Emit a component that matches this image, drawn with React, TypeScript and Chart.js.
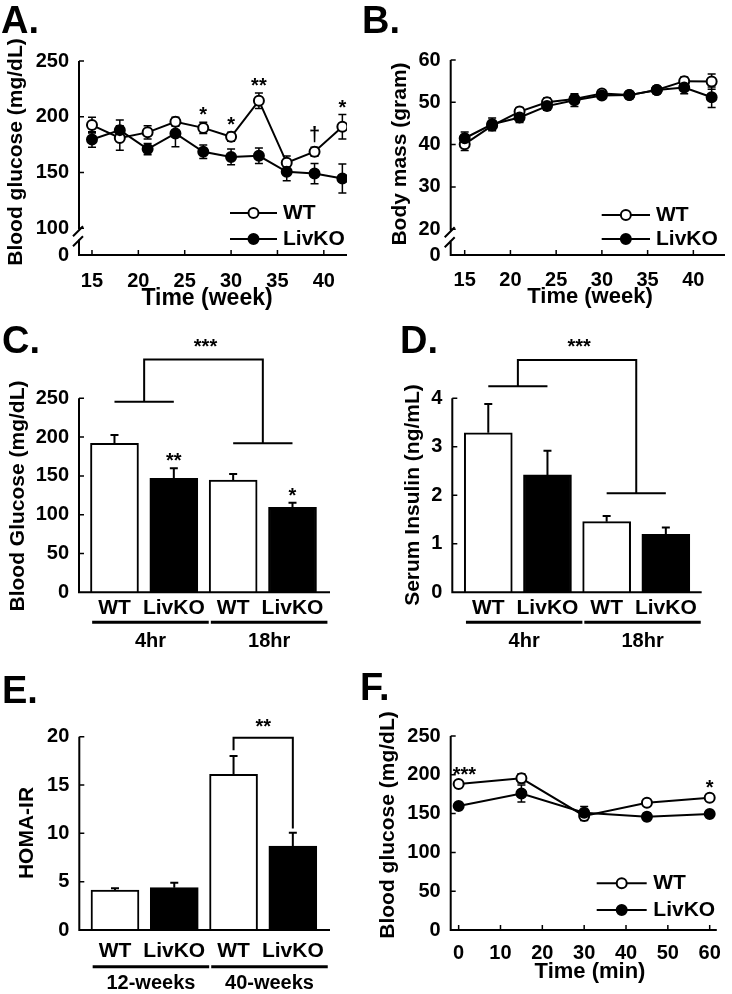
import React, { useEffect, useRef } from 'react';
import { Chart, registerables } from 'chart.js';
Chart.register(...registerables);

const FONT = '"Liberation Sans", Arial, Helvetica, sans-serif';
const SERIES = ['WT', 'LivKO'];

// ---- Panel A: blood glucose over weeks
const A_WEEKS = [15, 18, 21, 24, 27, 30, 33, 36, 39, 42];
const A_WT = [192.5, 181, 186, 195.5, 190, 182, 214.4, 158.7, 168.6, 191];
const A_WT_ERR = [7, 11, 6, 4, 5, 4, 7, 6, 4, 11];
const A_KO = [179.6, 188, 171, 185, 168.6, 164, 165, 150.6, 149, 144.6];
const A_KO_ERR = [7, 9, 5, 12, 6, 7, 7, 8, 9, 13];
const A_SIG = ['', '', '', '', '*', '*', '**', '', '†', '*'];
const A_X_TICKS = [15, 20, 25, 30, 35, 40];
const A_Y_TICKS = [100, 150, 200, 250];
const A_Y_FLOOR = 76; // broken axis floor, labelled "0"

// ---- Panel B: body mass over weeks
const B_WT = [40.1, 44.5, 47.8, 50, 50.8, 52.1, 51.7, 52.9, 55, 54.9];
const B_WT_ERR = [1.5, 1.2, 1, 1, 1, 0.8, 0.8, 0.8, 1, 1.8];
const B_KO = [41.5, 44.8, 46.4, 49.1, 50.5, 51.6, 51.7, 52.9, 53.5, 51.2];
const B_KO_ERR = [1.5, 1.5, 1.2, 1, 1.5, 0.8, 0.8, 0.8, 1.5, 2.4];
const B_Y_TICKS = [20, 30, 40, 50, 60];
const B_Y_FLOOR = 13.9;

// ---- Bars (C, D, E)
const BAR_CATS = ['WT', 'LivKO', 'WT', 'LivKO'];

const C_GROUPS = ['4hr', '18hr'];
const C_VALUES = [192, 147, 144.7, 109.5];
const C_ERR = [10.7, 12.8, 7.7, 6];
const C_SIG = ['', '**', '', '*'];
const C_BRACKET = [245.6, 192, 300];
const C_BRACKET_SIG = '***';
const C_Y_TICKS = [0, 50, 100, 150, 200, 250];

const D_VALUES = [3.29, 2.42, 1.456, 1.196];
const D_ERR = [0.59, 0.5, 0.115, 0.14];
const D_BRACKET = [4.25, 2.04, 4.79];
const D_BRACKET_SIG = '***';
const D_Y_TICKS = [0, 1, 2, 3, 4];

const E_GROUPS = ['12-weeks', '40-weeks'];
const E_VALUES = [4.14, 4.38, 16.1, 8.69];
const E_ERR = [0.17, 0.5, 1.9, 1.38];
const E_BRACKET = [18.6, 10.5, 19.9];
const E_BRACKET_SIG = '**';
const E_Y_TICKS = [0, 5, 10, 15, 20];

// ---- Panel F: glucose over minutes
const F_TIMES = [0, 15, 30, 45, 60];
const F_WT = [188, 195.5, 147, 164, 170.5];
const F_WT_ERR = [3, 6, 6, 3, 4];
const F_KO = [159.8, 176, 151, 146, 149.5];
const F_KO_ERR = [3, 11, 8, 5, 3];
const F_SIG = ['***', '', '', '', '*'];
const F_X_TICKS = [0, 10, 20, 30, 40, 50, 60];
const F_Y_TICKS = [0, 50, 100, 150, 200, 250];

const WY = 55;
const HX = 60;
const NUM_FONT = { family: FONT, size: 20, weight: 'bold' as const };
const CAT_FONT = { family: FONT, size: 21, weight: 'bold' as const };

type Err = { xs: number[]; v: number[]; e: number[] };
type Decor = {
  letter: [string, number, number];
  yTitle: [string, number, number];
  xTitle?: [string, number, number, number];
  breakAt?: number;
  xTicks?: boolean;
  lineErr?: Err[];
  barErr?: Err;
  sig?: { xs: number[]; v: number[]; e: number[]; s: string[] };
  legend?: { x0: number; x1: number; tx: number; y0: number; y1: number };
  pairBracket?: { levels: number[]; text: string };
  singleBracket?: { levels: number[]; text: string };
  groups?: { names: string[]; lineDy: number; labelDy: number };
};

function txt(ctx: any, s: string, x: number, y: number, size: number, align = 'center', base = 'middle', rot = 0) {
  ctx.save();
  ctx.translate(x, y);
  if (rot) ctx.rotate(rot);
  ctx.font = `bold ${size}px ${FONT}`;
  ctx.fillStyle = '#000';
  ctx.textAlign = align;
  ctx.textBaseline = base;
  ctx.fillText(s, 0, 0);
  ctx.restore();
}

function decorPlugin(d: Decor) {
  return {
    id: 'decor',
    beforeDatasetsDraw(chart: any) {
      if (!d.lineErr) return;
      const { ctx } = chart;
      const xs = chart.scales.x, ys = chart.scales.y;
      ctx.save();
      ctx.strokeStyle = '#000';
      ctx.lineWidth = 1.5;
      ctx.beginPath();
      d.lineErr.forEach((s) =>
        s.xs.forEach((x, i) => {
          const px = xs.getPixelForValue(x);
          const hi = ys.getPixelForValue(s.v[i] + s.e[i]);
          const lo = ys.getPixelForValue(s.v[i] - s.e[i]);
          ctx.moveTo(px, hi); ctx.lineTo(px, lo);
          ctx.moveTo(px - 4, hi); ctx.lineTo(px + 4, hi);
          ctx.moveTo(px - 4, lo); ctx.lineTo(px + 4, lo);
        })
      );
      ctx.stroke();
      ctx.restore();
    },
    afterDatasetsDraw(chart: any) {
      const { ctx, chartArea: a } = chart;
      const xs = chart.scales.x, ys = chart.scales.y;
      ctx.save();
      ctx.strokeStyle = '#000';
      if (d.barErr) {
        const s = d.barErr;
        ctx.lineWidth = 2;
        ctx.beginPath();
        s.xs.forEach((x, i) => {
          const px = xs.getPixelForValue(x);
          const hi = ys.getPixelForValue(s.v[i] + s.e[i]);
          const lo = ys.getPixelForValue(s.v[i]);
          ctx.moveTo(px, lo); ctx.lineTo(px, hi);
          ctx.moveTo(px - 4, hi); ctx.lineTo(px + 4, hi);
        });
        ctx.stroke();
      }
      if (d.sig) {
        const s = d.sig;
        ctx.font = `bold 20px ${FONT}`;
        s.s.forEach((str, i) => {
          if (!str) return;
          let px = xs.getPixelForValue(s.xs[i]);
          const w = ctx.measureText(str).width;
          if (px - w / 2 < a.left + 2) px = a.left + 2 + w / 2;
          const top = ys.getPixelForValue(s.v[i] + s.e[i]);
          txt(ctx, str, px, top - (str === '†' ? 6 : 1), 20, 'center', 'alphabetic');
        });
      }
      if (d.pairBracket) {
        const [lv, rv, tv] = d.pairBracket.levels;
        const x0 = xs.getPixelForValue(0), x1 = xs.getPixelForValue(1);
        const x2 = xs.getPixelForValue(2), x3 = xs.getPixelForValue(3);
        const yl = ys.getPixelForValue(lv), yr = ys.getPixelForValue(rv), yt = ys.getPixelForValue(tv);
        const ml = (x0 + x1) / 2, mr = (x2 + x3) / 2;
        ctx.lineWidth = 2;
        ctx.beginPath();
        ctx.moveTo(x0, yl); ctx.lineTo(x1, yl);
        ctx.moveTo(x2, yr); ctx.lineTo(x3, yr);
        ctx.moveTo(ml, yl); ctx.lineTo(ml, yt); ctx.lineTo(mr, yt); ctx.lineTo(mr, yr);
        ctx.stroke();
        txt(ctx, d.pairBracket.text, (ml + mr) / 2 + 2, yt - 7, 20, 'center', 'alphabetic');
      }
      if (d.singleBracket) {
        const [lv, rv, tv] = d.singleBracket.levels;
        const x2 = xs.getPixelForValue(2), x3 = xs.getPixelForValue(3);
        const yl = ys.getPixelForValue(lv), yr = ys.getPixelForValue(rv), yt = ys.getPixelForValue(tv);
        ctx.lineWidth = 2;
        ctx.beginPath();
        ctx.moveTo(x2, yl); ctx.lineTo(x2, yt); ctx.lineTo(x3, yt); ctx.lineTo(x3, yr);
        ctx.stroke();
        txt(ctx, d.singleBracket.text, (x2 + x3) / 2, yt - 5, 20, 'center', 'alphabetic');
      }
      ctx.restore();
    },
    afterDraw(chart: any) {
      const { ctx, chartArea: a } = chart;
      const xs = chart.scales.x, ys = chart.scales.y;
      const L = a.left;
      ctx.save();
      ctx.strokeStyle = '#000';
      ctx.lineWidth = 2;
      ctx.beginPath();
      if (d.breakAt !== undefined) {
        const yb = ys.getPixelForValue(d.breakAt);
        ctx.moveTo(L, a.top); ctx.lineTo(L, yb + 1);
        ctx.moveTo(L, yb + 11); ctx.lineTo(L, a.bottom);
        ctx.moveTo(L - 6, yb + 8); ctx.lineTo(L + 4, yb - 2);
        ctx.moveTo(L - 6, yb + 18); ctx.lineTo(L + 4, yb + 8);
      } else {
        ctx.moveTo(L, a.top); ctx.lineTo(L, a.bottom);
      }
      ctx.moveTo(L - 1, a.bottom); ctx.lineTo(a.right, a.bottom);
      ctx.stroke();
      ctx.lineWidth = 1.5;
      ctx.beginPath();
      ys.ticks.forEach((t: any) => {
        if (t.value <= ys.min) return;
        const p = ys.getPixelForValue(t.value);
        ctx.moveTo(L, p); ctx.lineTo(L + 5, p);
      });
      if (d.xTicks) {
        xs.ticks.forEach((t: any) => {
          const p = xs.getPixelForValue(t.value);
          ctx.moveTo(p, a.bottom); ctx.lineTo(p, a.bottom - 5);
        });
      }
      ctx.stroke();

      if (d.groups) {
        ctx.font = `bold ${CAT_FONT.size}px ${FONT}`;
        d.groups.names.forEach((g, gi) => {
          const i0 = gi * 2, i1 = gi * 2 + 1;
          const w0 = ctx.measureText(BAR_CATS[i0]).width;
          const w1 = ctx.measureText(BAR_CATS[i1]).width;
          const l = xs.getPixelForValue(i0) - w0 / 2 - 6;
          const r = xs.getPixelForValue(i1) + w1 / 2 + 4;
          const y = a.bottom + d.groups!.lineDy;
          ctx.lineWidth = 3;
          ctx.beginPath();
          ctx.moveTo(l, y); ctx.lineTo(r, y);
          ctx.stroke();
          txt(ctx, g, (l + r) / 2, a.bottom + d.groups!.labelDy, 20, 'center', 'middle');
        });
      }

      if (d.legend) {
        const lg = d.legend;
        [0, 1].forEach((k) => {
          const y = k ? lg.y1 : lg.y0;
          ctx.lineWidth = 2;
          ctx.beginPath();
          ctx.moveTo(lg.x0, y); ctx.lineTo(lg.x1, y);
          ctx.stroke();
          ctx.beginPath();
          ctx.arc((lg.x0 + lg.x1) / 2, y, 5, 0, Math.PI * 2);
          ctx.fillStyle = k ? '#000' : '#fff';
          ctx.fill();
          ctx.stroke();
          txt(ctx, SERIES[k], lg.tx, y, 21, 'left', 'middle');
        });
      }

      txt(ctx, d.yTitle[0], d.yTitle[1], d.yTitle[2], 21, 'center', 'middle', -Math.PI / 2);
      if (d.xTitle) txt(ctx, d.xTitle[0], d.xTitle[1], d.xTitle[2], d.xTitle[3], 'center', 'middle');
      txt(ctx, d.letter[0], d.letter[1], d.letter[2], 38, 'left', 'alphabetic');
      ctx.restore();
    },
  };
}

type Box = { w: number; h: number; L: number; R: number; T: number; B: number };
function layoutFor(b: Box) {
  return { padding: { left: b.L - WY, right: b.w - b.R, top: b.T, bottom: b.h - b.B - HX } };
}

function yScale(min: number, max: number, ticks: number[], label: (v: number) => string) {
  return {
    type: 'linear',
    min,
    max,
    grid: { display: false, drawTicks: false },
    border: { display: false },
    afterBuildTicks: (s: any) => { s.ticks = ticks.map((v) => ({ value: v })); },
    ticks: { font: NUM_FONT, color: '#000', padding: 10, callback: (v: any) => label(v) },
    afterFit: (s: any) => { s.width = WY; },
  };
}

function xScale(min: number, max: number, ticks: number[], label: (v: number) => string, pad: number, font: any) {
  return {
    type: 'linear',
    offset: false,
    min,
    max,
    grid: { display: false, drawTicks: false },
    border: { display: false },
    afterBuildTicks: (s: any) => { s.ticks = ticks.map((v) => ({ value: v })); },
    ticks: { font, color: '#000', padding: pad, autoSkip: false, maxRotation: 0, callback: (v: any) => label(v) },
    afterFit: (s: any) => { s.height = HX; },
  };
}

function lineConfig(o: any) {
  const ds = (vals: number[], fill: string, order: number, label: string) => ({
    label,
    data: o.xs.map((x: number, i: number) => ({ x, y: vals[i] })),
    borderColor: '#000',
    borderWidth: 2,
    pointRadius: 5,
    pointBorderWidth: 2,
    pointBackgroundColor: fill,
    pointBorderColor: '#000',
    tension: 0,
    order,
  });
  return {
    type: 'line',
    data: { datasets: [ds(o.wt, '#fff', 1, SERIES[0]), ds(o.ko, '#000', 0, SERIES[1])] },
    options: {
      responsive: false,
      animation: false,
      devicePixelRatio: 1,
      layout: layoutFor(o.box),
      plugins: { legend: { display: false }, tooltip: { enabled: false } },
      scales: {
        x: xScale(o.xMin, o.xMax, o.xTicks, (v) => String(v), o.xPad, NUM_FONT),
        y: yScale(o.yMin, o.yMax, o.yTicks, o.yLabel),
      },
    },
    plugins: [decorPlugin(o.decor)],
  };
}

function barConfig(o: any) {
  return {
    type: 'bar',
    data: {
      datasets: [
        {
          data: o.values.map((y: number, i: number) => ({ x: i, y })),
          backgroundColor: BAR_CATS.map((c) => (c === 'WT' ? '#fff' : '#000')),
          borderColor: '#000',
          borderWidth: 2,
          barThickness: 48,
        },
      ],
    },
    options: {
      responsive: false,
      animation: false,
      devicePixelRatio: 1,
      layout: layoutFor(o.box),
      plugins: { legend: { display: false }, tooltip: { enabled: false } },
      scales: {
        x: xScale(o.xMin, o.xMax, BAR_CATS.map((_, i) => i), (v) => BAR_CATS[v] ?? '', o.xPad, CAT_FONT),
        y: yScale(0, o.yMax, o.yTicks, (v) => String(v)),
      },
    },
    plugins: [decorPlugin(o.decor)],
  };
}

const PANELS: { left: number; top: number; w: number; h: number; make: () => any }[] = [
  {
    left: 0, top: 0, w: 366, h: 320,
    make: () => lineConfig({
      box: { w: 366, h: 320, L: 79, R: 347, T: 61, B: 255 },
      xs: A_WEEKS, wt: A_WT, ko: A_KO, xMin: 13.6, xMax: 42.5, xTicks: A_X_TICKS, xPad: 14,
      yMin: A_Y_FLOOR, yMax: 250, yTicks: [A_Y_FLOOR, ...A_Y_TICKS],
      yLabel: (v: number) => (v === A_Y_FLOOR ? '0' : String(v)),
      decor: {
        letter: ['A.', 1, 33], yTitle: ['Blood glucose (mg/dL)', 16, 152], xTitle: ['Time (week)', 207, 299, 23],
        breakAt: 100, xTicks: true,
        lineErr: [{ xs: A_WEEKS, v: A_WT, e: A_WT_ERR }, { xs: A_WEEKS, v: A_KO, e: A_KO_ERR }],
        sig: { xs: A_WEEKS, v: A_WT, e: A_WT_ERR, s: A_SIG },
        legend: { x0: 230, x1: 277, tx: 283, y0: 213, y1: 239 },
      },
    }),
  },
  {
    left: 358, top: 0, w: 374, h: 320,
    make: () => lineConfig({
      box: { w: 374, h: 320, L: 92.7, R: 372, T: 60, B: 255 },
      xs: A_WEEKS, wt: B_WT, ko: B_KO, xMin: 13.47, xMax: 43.46, xTicks: A_X_TICKS, xPad: 13,
      yMin: B_Y_FLOOR, yMax: 60, yTicks: [B_Y_FLOOR, ...B_Y_TICKS],
      yLabel: (v: number) => (v === B_Y_FLOOR ? '0' : String(v)),
      decor: {
        letter: ['B.', 4, 33], yTitle: ['Body mass (gram)', 42, 154], xTitle: ['Time (week)', 232, 297, 22],
        breakAt: 20, xTicks: true,
        lineErr: [{ xs: A_WEEKS, v: B_WT, e: B_WT_ERR }, { xs: A_WEEKS, v: B_KO, e: B_KO_ERR }],
        legend: { x0: 243.7, x1: 292, tx: 298, y0: 215, y1: 239 },
      },
    }),
  },
  {
    left: 0, top: 320, w: 366, h: 340,
    make: () => barConfig({
      box: { w: 366, h: 340, L: 79, R: 330, T: 78.3, B: 272.3 },
      values: C_VALUES, xMin: -0.598, xMax: 3.632, xPad: 3.5, yMax: 250, yTicks: C_Y_TICKS,
      decor: {
        letter: ['C.', 2, 33], yTitle: ['Blood Glucose (mg/dL)', 18, 176],
        barErr: { xs: [0, 1, 2, 3], v: C_VALUES, e: C_ERR },
        sig: { xs: [0, 1, 2, 3], v: C_VALUES, e: C_ERR, s: C_SIG },
        pairBracket: { levels: C_BRACKET, text: C_BRACKET_SIG },
        groups: { names: C_GROUPS, lineDy: 30, labelDy: 49.4 },
      },
    }),
  },
  {
    left: 366, top: 320, w: 366, h: 340,
    make: () => barConfig({
      box: { w: 366, h: 340, L: 86.3, R: 335.7, T: 78.3, B: 272.3 },
      values: D_VALUES, xMin: -0.608, xMax: 3.606, xPad: 3.5, yMax: 4, yTicks: D_Y_TICKS,
      decor: {
        letter: ['D.', 34, 33], yTitle: ['Serum Insulin (ng/mL)', 47, 175],
        barErr: { xs: [0, 1, 2, 3], v: D_VALUES, e: D_ERR },
        pairBracket: { levels: D_BRACKET, text: D_BRACKET_SIG },
        groups: { names: C_GROUPS, lineDy: 30, labelDy: 49.4 },
      },
    }),
  },
  {
    left: 0, top: 650, w: 366, h: 344,
    make: () => barConfig({
      box: { w: 366, h: 344, L: 79.3, R: 330, T: 86.7, B: 280 },
      values: E_VALUES, xMin: -0.602, xMax: 3.627, xPad: 9, yMax: 20, yTicks: E_Y_TICKS,
      decor: {
        letter: ['E.', 2, 53], yTitle: ['HOMA-IR', 27, 183],
        barErr: { xs: [0, 1, 2, 3], v: E_VALUES, e: E_ERR },
        singleBracket: { levels: E_BRACKET, text: E_BRACKET_SIG },
        groups: { names: E_GROUPS, lineDy: 36.7, labelDy: 53.3 },
      },
    }),
  },
  {
    left: 358, top: 650, w: 374, h: 344,
    make: () => lineConfig({
      box: { w: 374, h: 344, L: 92.7, R: 368.7, T: 86, B: 280 },
      xs: F_TIMES, wt: F_WT, ko: F_KO, xMin: -1.9, xMax: 61.7, xTicks: F_X_TICKS, xPad: 11,
      yMin: 0, yMax: 250, yTicks: F_Y_TICKS, yLabel: (v: number) => String(v),
      decor: {
        letter: ['F.', 2, 50], yTitle: ['Blood glucose (mg/dL)', 30, 175], xTitle: ['Time (min)', 232, 322, 22],
        xTicks: true,
        lineErr: [{ xs: F_TIMES, v: F_WT, e: F_WT_ERR }, { xs: F_TIMES, v: F_KO, e: F_KO_ERR }],
        sig: { xs: F_TIMES, v: F_WT, e: F_WT_ERR, s: F_SIG },
        legend: { x0: 238.7, x1: 288.7, tx: 295.3, y0: 233.3, y1: 260 },
      },
    }),
  },
];

function Panel({ left, top, w, h, make }: { left: number; top: number; w: number; h: number; make: () => any }) {
  const ref = useRef<HTMLCanvasElement>(null);
  useEffect(() => {
    const chart = new Chart(ref.current as HTMLCanvasElement, make());
    return () => chart.destroy();
  }, []);
  return (
    <canvas
      ref={ref}
      width={w}
      height={h}
      style={{ position: 'absolute', left, top, width: w, height: h }}
    />
  );
}

export default function App() {
  return (
    <div style={{ position: 'absolute', left: 0, top: 0, width: 732, height: 994, background: '#fff', overflow: 'hidden' }}>
      {PANELS.map((p, i) => (
        <Panel key={i} {...p} />
      ))}
    </div>
  );
}
